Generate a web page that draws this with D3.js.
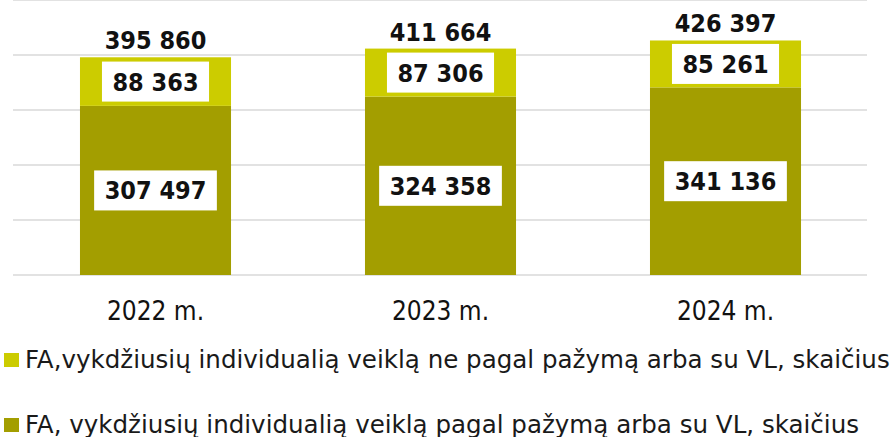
<!DOCTYPE html>
<html>
<head>
<meta charset="utf-8">
<script src="https://cdn.jsdelivr.net/npm/d3@7"></script>
<style>
  body { margin: 0; background: #fff; }
  svg { display: block; }
</style>
</head>
<body>
<svg id="chart" width="894" height="437"></svg>
<script>
// data
var years = ["2022 m.", "2023 m.", "2024 m."];
var withCert = [307497, 324358, 341136];   // pagal pažymą arba su VL
var withoutCert = [88363, 87306, 85261];   // ne pagal pažymą arba su VL
var totals = [395860, 411664, 426397];
var gridTicks = [0, 100000, 200000, 300000, 400000, 500000];
var legendLabels = [
    "FA,vykdžiusių individualią veiklą ne pagal pažymą arba su VL, skaičius",
    "FA, vykdžiusių individualią veiklą pagal pažymą arba su VL, skaičius"
];

var colTop = "#cccc00",
    colBottom = "#a39e00",
    font = "'DejaVu Sans Condensed', 'DejaVu Sans', sans-serif";

var svg = d3.select("#chart");

var x = d3.scaleBand()
    .domain(years)
    .range([13, 868])
    .paddingInner(0.47)
    .paddingOuter(0.235);

var y = d3.scaleLinear()
    .domain([0, 500000])
    .range([275, 0]);

var fmt = function (v) { return d3.format(",")(v).replace(/,/g, " "); };

// gridlines
svg.append("g")
    .selectAll("line")
    .data(gridTicks)
  .enter().append("line")
    .attr("x1", 13)
    .attr("x2", 867)
    .attr("y1", function (d) { return y(d); })
    .attr("y2", function (d) { return y(d); })
    .attr("stroke", "#d9d9d9")
    .attr("stroke-width", 1.5);

var rows = years.map(function (yr, i) {
    return { year: yr, bottom: withCert[i], top: withoutCert[i], total: totals[i] };
});

var stack = d3.stack().keys(["bottom", "top"]);
var series = stack(rows);
var colors = { bottom: colBottom, top: colTop };

var layer = svg.append("g")
    .selectAll("g")
    .data(series)
  .enter().append("g")
    .attr("fill", function (d) { return colors[d.key]; });

layer.selectAll("rect")
    .data(function (d) { return d; })
  .enter().append("rect")
    .attr("x", function (d) { return x(d.data.year); })
    .attr("width", x.bandwidth())
    .attr("y", function (d) { return y(d[1]); })
    .attr("height", function (d) { return y(d[0]) - y(d[1]); });

// value labels in white boxes
series.forEach(function (s) {
    s.forEach(function (d) {
        var cx = x(d.data.year) + x.bandwidth() / 2,
            cy = (y(d[0]) + y(d[1])) / 2;
        var g = svg.append("g");
        var t = g.append("text")
            .attr("x", cx)
            .attr("y", cy)
            .attr("dy", "0.36em")
            .attr("text-anchor", "middle")
            .style("font-family", font)
            .style("font-size", "25px")
            .style("font-weight", "bold")
            .attr("fill", "#111")
            .text(fmt(d[1] - d[0]));
        var w = t.node().getComputedTextLength() + 21;
        g.insert("rect", "text")
            .attr("x", cx - w / 2)
            .attr("y", cy - 20)
            .attr("width", w)
            .attr("height", 40)
            .attr("fill", "#fff");
    });
});

// totals above bars
svg.append("g")
    .selectAll("text")
    .data(rows)
  .enter().append("text")
    .attr("x", function (d) { return x(d.year) + x.bandwidth() / 2; })
    .attr("y", function (d) { return y(d.total) - 8; })
    .attr("text-anchor", "middle")
    .style("font-family", font)
    .style("font-size", "25px")
    .style("font-weight", "bold")
    .attr("fill", "#111")
    .text(function (d) { return fmt(d.total); });

// category axis
svg.append("g")
    .selectAll("text")
    .data(years)
  .enter().append("text")
    .attr("x", function (d) { return x(d) + x.bandwidth() / 2; })
    .attr("y", 320)
    .attr("text-anchor", "middle")
    .style("font-family", font)
    .style("font-size", "26px")
    .attr("fill", "#111")
    .text(function (d) { return d; });

// legend
var leg = svg.append("g")
    .selectAll("g")
    .data(legendLabels)
  .enter().append("g")
    .attr("transform", function (d, i) { return "translate(0," + (i === 0 ? 353 : 418) + ")"; });

leg.append("rect")
    .attr("x", 4)
    .attr("y", 0)
    .attr("width", 15)
    .attr("height", 14)
    .attr("fill", function (d, i) { return i === 0 ? colTop : colBottom; });

var legText = leg.append("text")
    .attr("x", 25)
    .attr("y", 15)
    .style("font-family", "'DejaVu Sans', sans-serif")
    .style("font-size", "25px")
    .attr("fill", "#1a1a1a")
    .text(function (d) { return d; });

// first row spans to about x=890 in the reference; scale font to fit
var w0 = legText.nodes()[0].getComputedTextLength();
legText.style("font-size", (25 * 865 / w0) + "px");
</script>
</body>
</html>
